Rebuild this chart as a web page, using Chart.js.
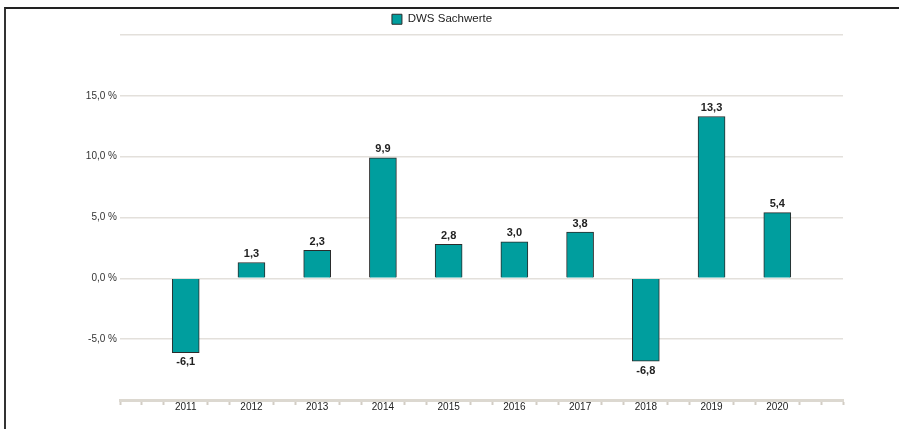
<!DOCTYPE html>
<html>
<head>
<meta charset="utf-8">
<script src="https://cdn.jsdelivr.net/npm/chart.js@4.4.1/dist/chart.umd.min.js"></script>
<style>
  html, body { margin: 0; padding: 0; background: #fff; overflow: hidden; }
  #frame {
    position: absolute; left: 4px; top: 7px; width: 895px; height: 422px;
    border-top: 2px solid #222; border-left: 2px solid #333;
  }
  #box { position: absolute; left: 35px; top: 0; width: 840px; height: 420px; }
</style>
</head>
<body>
<div id="frame"><div id="box"><canvas id="barchart"></canvas></div></div>
<script>
var years = [2011, 2012, 2013, 2014, 2015, 2016, 2017, 2018, 2019, 2020];
var performance = [-6.1, 1.3, 2.3, 9.9, 2.8, 3.0, 3.8, -6.8, 13.3, 5.4];
var yTickLabels = [-5, 0, 5, 10, 15];
var seriesName = "DWS Sachwerte";

function fmt(v) {
  return v.toFixed(1).replace(".", ",");
}

// werte ueber/unter den balken
var valueLabels = {
  id: "valueLabels",
  afterDatasetsDraw: function (chart) {
    var ctx = chart.ctx;
    var meta = chart.getDatasetMeta(0);
    ctx.save();
    ctx.font = "bold 11px 'Liberation Sans', Arial, sans-serif";
    ctx.fillStyle = "#222";
    ctx.textAlign = "center";
    meta.data.forEach(function (bar, i) {
      var v = performance[i];
      if (v >= 0) {
        ctx.textBaseline = "bottom";
        ctx.fillText(fmt(v), bar.x, bar.y - 3);
      } else {
        ctx.textBaseline = "top";
        ctx.fillText(fmt(v), bar.x, bar.y + 4);
      }
    });
    ctx.restore();
  }
};

var points = [];
for (let i = 0; i < years.length; i++) {
  points.push({ x: years[i], y: performance[i] });
}

var chart1 = document.getElementById("barchart");
var myChart1 = new Chart(chart1, {
  type: "bar",
  data: {
    datasets: [
      {
        label: seriesName,
        data: points,
        backgroundColor: "#009e9e",
        borderColor: "#2b2b2b",
        borderWidth: 1,
        barThickness: 27,
      },
    ],
  },
  plugins: [valueLabels],
  options: {
    responsive: true,
    maintainAspectRatio: false,
    animation: false,
    layout: { padding: { right: 38, top: 0, bottom: 1, left: 0 } },
    plugins: {
      legend: {
        display: true,
        position: "top",
        labels: {
          boxWidth: 10,
          boxHeight: 10,
          padding: 4.5,
          color: "#222",
          font: { family: "'Liberation Sans', Arial, sans-serif", size: 11.5 },
        },
      },
      tooltip: { enabled: false },
    },
    scales: {
      x: {
        type: "linear",
        offset: false,
        min: years[0] - 1,
        max: years[years.length - 1] + 1,
        afterBuildTicks: function (scale) {
          var t = [];
          for (let i = 0; i <= (years.length + 1) * 3; i++) {
            t.push({ value: years[0] - 1 + i / 3 });
          }
          scale.ticks = t;
        },
        afterFit: function (scale) {
          scale.height = 28;
        },
        ticks: {
          autoSkip: false,
          maxRotation: 0,
          padding: -4,
          color: "#222",
          font: { family: "'Liberation Sans', Arial, sans-serif", size: 10 },
          callback: function (value) {
            return years.indexOf(value) >= 0 ? String(value) : "";
          },
        },
        grid: {
          offset: false,
          drawOnChartArea: false,
          drawTicks: true,
          tickLength: 5,
          tickWidth: 2,
          tickColor: function (c) {
            if (c.tick && years.indexOf(c.tick.value) >= 0) return "rgba(0,0,0,0)";
            return "#d2cdc4";
          },
        },
        border: { display: true, color: "#dcd8d0", width: 3 },
      },
      y: {
        min: -10,
        max: 20,
        afterFit: function (scale) {
          scale.width = 79;
        },
        ticks: {
          stepSize: 5,
          padding: 3,
          color: "#333",
          font: { family: "'Liberation Sans', Arial, sans-serif", size: 10 },
          callback: function (value) {
            return yTickLabels.indexOf(value) >= 0 ? fmt(value) + " %" : "";
          },
        },
        grid: {
          drawTicks: false,
          color: "#e3e0db",
          lineWidth: 1.5,
        },
        border: { display: false },
      },
    },
  },
});
</script>
</body>
</html>
